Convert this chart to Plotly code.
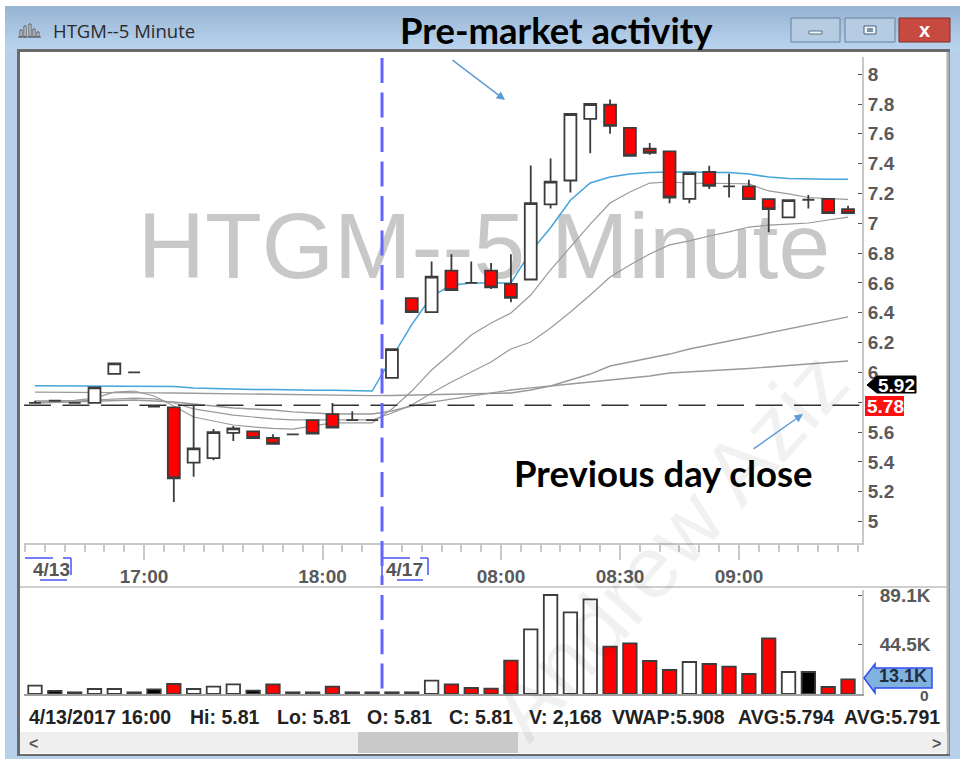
import plotly.graph_objects as go

# ---------- data ----------
bars = list(range(42))
opens = [5.795,5.81,5.795,5.795,5.99,6.00,5.77,5.765,5.395,5.425,5.595,5.605,5.56,5.585,5.68,5.72,5.68,5.68,
         5.963,6.498,6.404,6.683,6.60,6.683,6.594,6.623,7.127,7.287,7.70,7.795,7.64,7.50,7.482,7.164,7.344,
         7.247,7.247,7.162,7.04,7.158,7.164,7.095]
highs = [5.81,5.81,5.795,5.90,6.06,6.00,5.77,5.765,5.78,5.62,5.64,5.605,5.585,5.585,5.68,5.795,5.74,5.68,
         6.156,6.498,6.744,6.793,6.744,6.733,6.793,7.388,7.435,7.733,7.80,7.83,7.64,7.538,7.482,7.337,7.386,
         7.332,7.292,7.162,7.156,7.19,7.164,7.117]
lows = [5.79,5.81,5.795,5.795,5.99,6.00,5.77,5.13,5.30,5.41,5.54,5.56,5.52,5.585,5.59,5.63,5.68,5.68,
        5.963,6.404,6.404,6.552,6.60,6.559,6.47,6.623,7.10,7.207,7.47,7.60,7.453,7.46,7.135,7.135,7.23,
        7.173,7.162,6.94,7.04,7.10,7.068,7.068]
closes = [5.795,5.81,5.795,5.90,6.06,6.00,5.77,5.29,5.49,5.60,5.625,5.56,5.52,5.585,5.59,5.63,5.68,5.68,
          6.156,6.404,6.643,6.552,6.60,6.57,6.50,7.135,7.28,7.733,7.80,7.654,7.453,7.473,7.173,7.337,7.252,
          7.247,7.162,7.095,7.156,7.158,7.068,7.068]
volumes = [7500,2700,1500,4500,4500,1500,4200,9000,4500,6600,8700,3000,8700,1500,1500,6600,1500,1500,1500,1500,
           12000,8700,5400,4800,30000,58200,89100,73500,85200,42600,45600,29700,21600,28800,27000,24600,18000,
           50100,19800,19800,6300,13100]
vol_dir = ["up","flat","flat","up","up","flat","flat","down","up","up","up","flat","down","flat","flat","down",
           "flat","flat","flat","flat","up","down","down","down","down","up","up","up","up","down","down","down",
           "down","up","down","down","down","down","up","flat","down","down"]
vwap = [5.91,5.91,5.91,5.91,5.91,5.91,5.91,5.905,5.895,5.89,5.89,5.885,5.885,5.88,5.88,5.88,5.875,5.875,
        6.10,6.32,6.51,6.585,6.60,6.60,6.60,6.81,6.97,7.155,7.27,7.31,7.33,7.34,7.345,7.345,7.34,7.34,7.33,
        7.31,7.30,7.295,7.295,7.295]
ma_fast = [5.808,5.808,5.812,5.828,5.868,5.875,5.842,5.775,5.701,5.674,5.647,5.634,5.624,5.62,5.64,5.661,5.661,
           5.661,5.755,5.875,6.016,6.13,6.251,6.331,6.398,6.519,6.687,6.841,6.995,7.136,7.21,7.27,7.277,7.27,
           7.27,7.267,7.264,7.217,7.197,7.173,7.166,7.16]
ma_mid = [5.808,5.808,5.808,5.815,5.822,5.828,5.822,5.795,5.755,5.735,5.714,5.701,5.688,5.681,5.681,5.681,5.681,
          5.681,5.728,5.782,5.862,5.936,6.003,6.07,6.157,6.204,6.298,6.405,6.519,6.64,6.72,6.794,6.855,6.882,
          6.915,6.942,6.975,6.988,6.995,7.002,7.022,7.042]
ma_slow = [5.795,5.798,5.801,5.805,5.808,5.815,5.808,5.801,5.788,5.775,5.761,5.755,5.748,5.735,5.728,5.721,5.721,
           5.721,5.741,5.775,5.801,5.822,5.842,5.862,5.882,5.896,5.909,5.949,5.989,6.043,6.07,6.097,6.123,6.157,
           6.184,6.211,6.238,6.265,6.292,6.318,6.345,6.372]
ma_long = [5.868,5.868,5.868,5.867,5.865,5.864,5.863,5.862,5.86,5.858,5.855,5.853,5.851,5.848,5.847,5.845,5.844,
           5.844,5.845,5.848,5.848,5.852,5.855,5.858,5.862,5.882,5.909,5.922,5.936,5.949,5.962,5.976,5.996,6.003,
           6.01,6.016,6.026,6.036,6.046,6.056,6.07,6.076]
prev_close = 5.78
session_break = 17.5
price_ticks = [5,5.2,5.4,5.6,5.8,6,6.2,6.4,6.6,6.8,7,7.2,7.4,7.6,7.8,8]
price_labels = ["5","5.2","5.4","5.6","","6","6.2","6.4","6.6","6.8","7","7.2","7.4","7.6","7.8","8"]
vol_ticks = [0,44500,89100]
vol_labels = ["","44.5K","89.1K"]
time_ticks = [2.5,5.5,8.5,11.5,14.5,17.5,20.5,23.5,26.5,29.5,32.5,35.5,38.5,41.5]
time_labels = ["","17:00","","","18:00","","","08:00","","08:30","","09:00","",""]
minor_ticks = [i-0.5 for i in range(43)]
status = [("4/13/2017 16:00",27),("Hi: 5.81",188),("Lo: 5.81",275),("O: 5.81",365),("C: 5.81",447),
          ("V: 2,168",527),("VWAP:5.908",610),("AVG:5.794",736),("AVG:5.791",842)]

W, H = 965, 763
def px(x): return x/W
def py(y): return 1-y/H
def b(labels): return [f"<b>{s}</b>" if s else "" for s in labels]

shapes = []
def rect(x0,y0,x1,y1,fill,line=None,lw=0,layer="below"):
    shapes.append(dict(type="rect",xref="paper",yref="paper",x0=px(x0),x1=px(x1),y0=py(y0),y1=py(y1),
                       fillcolor=fill,line=dict(color=line or fill,width=lw),layer=layer))
def seg(x0,y0,x1,y1,color,lw=1,layer="above",dash=None):
    shapes.append(dict(type="line",xref="paper",yref="paper",x0=px(x0),x1=px(x1),y0=py(y0),y1=py(y1),
                       line=dict(color=color,width=lw,dash=dash),layer=layer))
def poly(points,fill,line,lw=1,layer="above"):
    d="M "+" L ".join(f"{px(a)},{py(c)}" for a,c in points)+" Z"
    shapes.append(dict(type="path",xref="paper",yref="paper",path=d,fillcolor=fill,line=dict(color=line,width=lw),layer=layer))

# window frame
rect(5,6,960,759,"#b8d1ea")
top=(0x98,0xb5,0xd4); bot=(0xb9,0xd3,0xee)
for k in range(12):
    t=k/11
    c="rgb(%d,%d,%d)"%tuple(round(p+(q-p)*t) for p,q in zip(top,bot))
    rect(5,6+k*3.7,960,6+(k+1)*3.7+0.5,c)
rect(17,49,950,756,"#6a6a6a")
rect(20,52,947,754,"#ffffff")
seg(948,52,948,754,"#b0b0b0",3,"below")
# title buttons
for x0,x1,fill,edge in [(791,840,"#b6cce3","#66809c"),(845,895,"#b6cce3","#66809c"),(899,950,"#c64a3f","#7c2f28")]:
    rect(x0,18,x1,42,fill,edge,1)
rect(809,31,822,34,"#f2f6fa","#5a7088",1)
rect(864,26,876,34,"#f2f6fa","#4a6078",1)
rect(867,28,873,32,"#7d93ab")
# icon
for x0,y0,x1 in [(20,30,22),(24,26,26),(29,24,31),(33,29,35),(37,32,39)]:
    rect(x0,y0,x1,37,"#ffffff","#555555",1)
seg(18,37,41,37,"#555555",1)
# scroll bar
rect(20,732,947,753,"#efefef")
rect(358,732,518,753,"#c9c9c9")
# separator
seg(20,587,947,587,"#cfcfcf",2,"below")
# brackets of the date labels
bc="#4a55f0"
for p,q,r,s in [(25,558,53,558),(71,558,71,575),(63,558,71,558),(40,580,67,580)]:
    seg(p,q,r,s,bc,1.5)
for p,q,r,s in [(382,558,410,558),(382,558,382,578),(428,558,428,575),(420,558,428,558),(397,580,423,580)]:
    seg(p,q,r,s,bc,1.5)
# previous close and session break
shapes.append(dict(type="line",xref="paper",yref="y",x0=px(24),x1=px(862),y0=prev_close,y1=prev_close,
                   line=dict(color="#333333",width=1.6,dash="27px,11.5px"),layer="above"))
shapes.append(dict(type="line",xref="x",yref="paper",x0=session_break,x1=session_break,y0=py(58),y1=py(585),
                   line=dict(color="#6464ff",width=3,dash="25px,9.5px"),layer="above"))
shapes.append(dict(type="line",xref="x",yref="paper",x0=session_break,x1=session_break,y0=py(595),y1=py(689),
                   line=dict(color="#6464ff",width=3,dash="25px,9.3px"),layer="above"))
# price flags
poly([(867,385),(877,376),(916,376),(916,393),(877,393)],"#000000","#000000")
rect(865,396,904,416,"#ff1010",layer="above")
poly([(864,678),(875,664),(875,668),(932,668),(932,688),(875,688),(875,693)],"#7fb2de","#2f4df0",1.5)

ann = []
def text(x,y,s,size,color,bold=False,family="Liberation Sans",anchor="left",angle=0):
    ann.append(dict(xref="paper",yref="paper",x=px(x),y=py(y),text=f"<b>{s}</b>" if bold else s,showarrow=False,
                    xanchor=anchor,yanchor="middle",textangle=angle,
                    font=dict(size=size,color=color,family=family)))
text(668,545,"Andrew Aziz",88,"rgba(0,0,0,0.055)",anchor="center",angle=-48)
text(51,31,"HTGM--5 Minute",18.5,"#2b2b2b",family="Open Sans")
text(556.5,30,"Pre-market activity",36.5,"#000000",True,"Lato","center")
text(663,473,"Previous day close",36.5,"#000000",True,"Lato","center")
text(51,569,"4/13",19,"#555555",True,anchor="center")
text(404,569,"4/17",19,"#555555",True,anchor="center")
text(896,385,"5.92",19,"#ffffff",True,anchor="center")
text(885,406,"5.78",19,"#ffffff",True,anchor="center")
text(903,676,"13.1K",18,"#222c40",True,anchor="center")
text(931,695,"0",15.5,"#555555",True,anchor="right")
for s,x in status:
    text(x,717,s,19.5,"#222222",True)
text(33,743,"<",16,"#555555",True,anchor="center")
text(936,743,">",16,"#555555",True,anchor="center")
text(924,30,"x",20,"#ffffff",True,anchor="center")
# blue call-out arrows
for hx,hy,dx,dy in [(505,100,-54,-41),(803,414,-51,36)]:
    ann.append(dict(xref="paper",yref="paper",x=px(hx),y=py(hy),ax=dx,ay=dy,text="",showarrow=True,arrowhead=2,
                    arrowsize=1.2,arrowwidth=1.4,arrowcolor="#5b9bd5"))

fig = go.Figure()
grey = "#9a9a9a"
fig.add_trace(go.Scatter(x=[22.64],y=[6.787],mode="text",text=["HTGM--5 Minute"],textposition="middle center",
                         textfont=dict(size=93,color="#c8c8c8",family="Liberation Sans"),hoverinfo="skip",xaxis="x",yaxis="y"))
for s,c,w in [(ma_long,grey,1.4),(ma_slow,grey,1.4),(ma_mid,grey,1.2),(ma_fast,grey,1.2),(vwap,"#45a5d8",1.5)]:
    fig.add_trace(go.Scatter(x=bars,y=s,mode="lines",line=dict(color=c,width=w),xaxis="x",yaxis="y"))
fig.add_trace(go.Candlestick(x=bars,open=opens,high=highs,low=lows,close=closes,xaxis="x2",yaxis="y2",
    increasing=dict(fillcolor="#ffffff",line=dict(color="#3c3c3c",width=1.8)),
    decreasing=dict(fillcolor="#ff0000",line=dict(color="#3c3c3c",width=1.8))))
fill_map = {"up":"#ffffff","down":"#ff0000","flat":"#000000"}
fig.add_trace(go.Bar(x=bars,y=volumes,width=0.68,marker=dict(color=[fill_map[d] for d in vol_dir],
                     line=dict(color="#3c3c3c",width=1.8)),xaxis="x3",yaxis="y3"))

xr = [(24-35)/19.83,(862-35)/19.83]
yr = [8-(543-74.2)/149.1,8+(74.2-57)/149.1]
dom_x = [px(24),px(862)]
tf = dict(size=19,color="#5a5a5a",family="Liberation Sans")
fig.update_layout(
    template="none",boxgap=0.14,
    width=W,height=H,margin=dict(l=0,r=0,t=0,b=0),paper_bgcolor="#ffffff",plot_bgcolor="rgba(0,0,0,0)",
    showlegend=False,shapes=shapes,annotations=ann,hovermode=False,
    xaxis=dict(automargin=False,domain=dom_x,range=xr,anchor="y",showgrid=False,zeroline=False,showline=True,linecolor="#c8c8c8",linewidth=2,
               ticks="outside",ticklen=15,tickwidth=1.5,tickcolor="#c8c8c8",tickmode="array",tickvals=time_ticks,ticktext=b(time_labels),
               tickfont=tf,tickangle=0,
               minor=dict(tickmode="array",tickvals=minor_ticks,ticks="outside",ticklen=7,tickwidth=1.5,tickcolor="#c8c8c8",showgrid=False)),
    yaxis=dict(automargin=False,domain=[py(543),py(57)],range=yr,anchor="x",side="right",showgrid=False,zeroline=False,showline=True,
               linecolor="#c8c8c8",linewidth=2,ticks="inside",ticklen=4,tickcolor="#555555",tickmode="array",
               tickvals=price_ticks,ticktext=b(price_labels),tickfont=tf),
    xaxis2=dict(automargin=False,domain=dom_x,range=xr,overlaying="x",visible=False,rangeslider=dict(visible=False),anchor="y2"),
    yaxis2=dict(automargin=False,domain=[py(543),py(57)],range=yr,overlaying="y",visible=False,anchor="x2"),
    xaxis3=dict(automargin=False,domain=dom_x,range=xr,anchor="y3",showgrid=False,zeroline=False,showline=True,linecolor="#a0a0a0",linewidth=1.5,
                ticks="",showticklabels=False),
    yaxis3=dict(automargin=False,domain=[py(694),py(590)],range=[0,93600],anchor="x3",side="right",showgrid=False,zeroline=False,showline=True,
                linecolor="#c8c8c8",linewidth=2,ticks="inside",ticklen=4,tickcolor="#555555",tickmode="array",
                tickvals=vol_ticks,ticktext=b(vol_labels),tickfont=tf,ticklabelstandoff=12),
)
fig.write_html("out.html",config=dict(displayModeBar=False),post_script="document.body.style.margin='0';document.body.style.overflow='hidden';")
